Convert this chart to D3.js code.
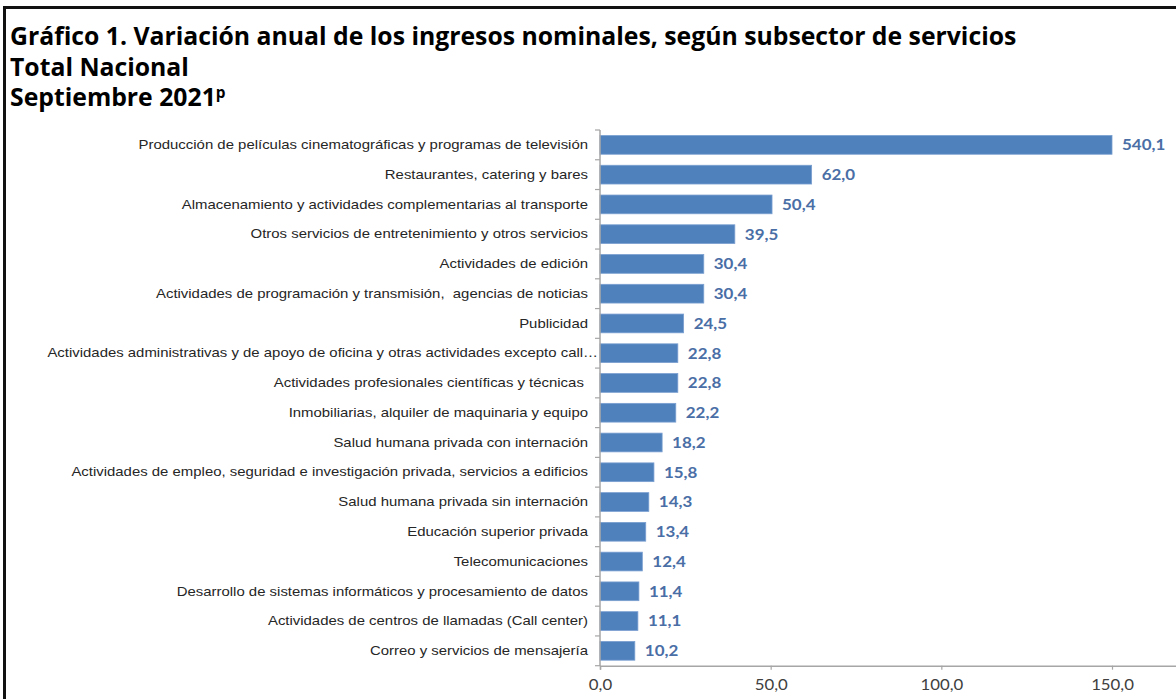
<!DOCTYPE html>
<html>
<head>
<meta charset="utf-8">
<script src="https://cdn.jsdelivr.net/npm/d3@7"></script>
<style>
  html, body { margin: 0; padding: 0; background: #fff; }
  svg { display: block; }
</style>
</head>
<body>
<svg id="chart" width="1176" height="699"></svg>
<script>
const titleLines = [
  "Gráfico 1. Variación anual de los ingresos nominales, según subsector de servicios",
  "Total Nacional",
  "Septiembre 2021"
];
const titleSup = "p";

const categories = [
  "Producción de películas cinematográficas y programas de televisión",
  "Restaurantes, catering y bares",
  "Almacenamiento y actividades complementarias al transporte",
  "Otros servicios de entretenimiento y otros servicios",
  "Actividades de edición",
  "Actividades de programación y transmisión,  agencias de noticias",
  "Publicidad",
  "Actividades administrativas y de apoyo de oficina y otras actividades excepto call…",
  "Actividades profesionales científicas y técnicas ",
  "Inmobiliarias, alquiler de maquinaria y equipo",
  "Salud humana privada con internación",
  "Actividades de empleo, seguridad e investigación privada, servicios a edificios",
  "Salud humana privada sin internación",
  "Educación superior privada",
  "Telecomunicaciones",
  "Desarrollo de sistemas informáticos y procesamiento de datos",
  "Actividades de centros de llamadas (Call center)",
  "Correo y servicios de mensajería"
];
const values = [540.1, 62.0, 50.4, 39.5, 30.4, 30.4, 24.5, 22.8, 22.8, 22.2, 18.2, 15.8, 14.3, 13.4, 12.4, 11.4, 11.1, 10.2];
const xTicks = [0, 50, 100, 150];
const axisCap = 150;

const svg = d3.select("#chart");
const fmt = v => d3.format(".1f")(v).replace(".", ",");

// frame (top and left edges visible)
svg.append("line").attr("x1", 4.5).attr("x2", 1176).attr("y1", 7.5).attr("y2", 7.5)
  .attr("stroke", "#111").attr("stroke-width", 3);
svg.append("line").attr("x1", 4.5).attr("x2", 4.5).attr("y1", 6).attr("y2", 699)
  .attr("stroke", "#111").attr("stroke-width", 3);

// title
const titleG = svg.append("g");
const tYs = [45, 76, 106];
titleLines.forEach((t, i) => {
  const tx = titleG.append("text")
    .attr("x", 10).attr("y", tYs[i])
    .attr("font-family", "'Open Sans', sans-serif")
    .attr("font-weight", 700)
    .attr("font-size", 21)
    .attr("fill", "#000")
    .text(t);
  if (i === 2) {
    tx.append("tspan").attr("dy", -8).attr("font-size", 13).text(titleSup);
  }
});
{
  const first = titleG.select("text").node();
  const w = first.getComputedTextLength();
  const fs = 21 * 1007 / w;
  titleG.selectAll("text").attr("font-size", fs);
  titleG.selectAll("tspan").attr("font-size", fs * 0.62);
}

const x = d3.scaleLinear().domain([0, 170]).range([600, 600 + 170 * (512 / 150)]);
const y = d3.scaleBand().domain(categories).range([130, 665.7]).paddingInner(0.37).paddingOuter(0.185);

// bars
svg.append("g").selectAll("rect").data(values).join("rect")
  .attr("x", x(0))
  .attr("y", (d, i) => y(categories[i]))
  .attr("width", d => x(Math.min(d, axisCap)) - x(0))
  .attr("height", y.bandwidth())
  .attr("fill", "#4f81bd")
  .attr("stroke", "#7a9fd0")
  .attr("stroke-width", 0.8);

// value labels (horizontally stretched like the reference rendering)
const valSx = 1.13;
svg.append("g").selectAll("text").data(values).join("text")
  .attr("transform", (d, i) => `translate(${x(Math.min(d, axisCap)) + 10},${y(categories[i]) + y.bandwidth() / 2}) scale(${valSx},1)`)
  .attr("dy", "0.36em")
  .attr("font-family", "Lato, sans-serif")
  .attr("font-weight", 700)
  .attr("font-size", 15)
  .attr("fill", "#4a6ea6")
  .text(d => fmt(d));

// y axis
const yAxisG = svg.append("g");
yAxisG.append("line").attr("x1", 600).attr("x2", 600).attr("y1", 130).attr("y2", 666)
  .attr("stroke", "#a6a6a6").attr("stroke-width", 1.5);
const step = y.step();
const boundaries = d3.range(categories.length + 1).map(i => 130 + i * step);
yAxisG.selectAll("line.tk").data(boundaries).join("line").attr("class", "tk")
  .attr("x1", 595).attr("x2", 600).attr("y1", d => d).attr("y2", d => d)
  .attr("stroke", "#a6a6a6").attr("stroke-width", 1.2);
const catTexts = yAxisG.selectAll("text").data(categories).join("text")
  .attr("dy", "0.35em")
  .attr("text-anchor", "end")
  .attr("font-family", "'Liberation Sans', Arial, sans-serif")
  .attr("font-size", 12)
  .attr("fill", "#262626")
  .style("white-space", "pre")
  .text(d => d);
const w0 = catTexts.nodes()[0].getComputedTextLength();
const catSx = 450 / w0;
catTexts.attr("transform", (d, i) => `translate(${i === 7 ? 598 : 588},${y(d) + y.bandwidth() / 2}) scale(${catSx},1)`);

// x axis
const xAxis = d3.axisBottom(x).tickValues(xTicks).tickFormat(fmt).tickSize(4).tickPadding(10);
const xg = svg.append("g").attr("transform", "translate(0,665.7)").call(xAxis);
xg.select(".domain").attr("stroke", "#a6a6a6").attr("stroke-width", 1.5);
xg.selectAll(".tick line").attr("stroke", "#a6a6a6").attr("stroke-width", 1.2);
xg.selectAll(".tick text")
  .attr("font-family", "Lato, sans-serif")
  .attr("font-size", 15)
  .attr("fill", "#404040")
  .attr("transform", "scale(1.12,1)")
  .attr("x", function() { return 0; });
// keep tick labels centred under ticks after the stretch
xg.selectAll(".tick").each(function(d) {
  d3.select(this).select("text").attr("transform", null)
    .attr("transform", `scale(1.12,1)`);
});
</script>
</body>
</html>
